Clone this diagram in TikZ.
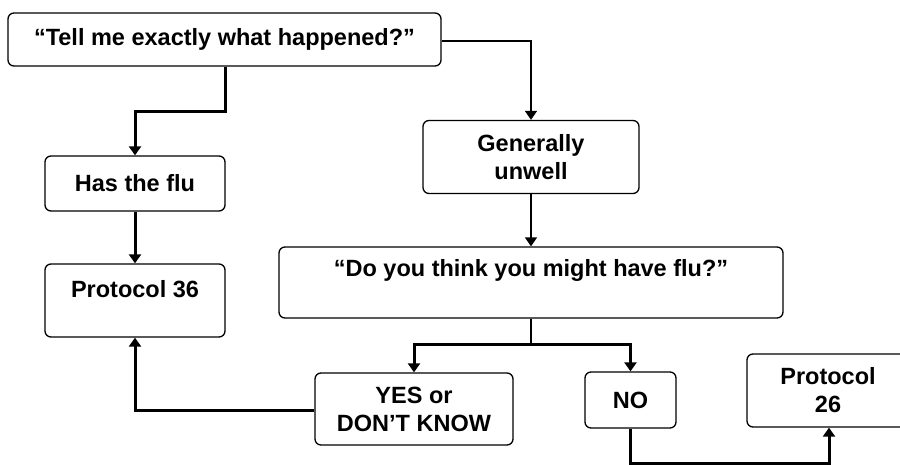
\documentclass[tikz,border=0pt]{standalone}
\usepackage{fontspec}
\setmainfont{Liberation Sans}
\usetikzlibrary{arrows.meta}
\begin{document}
\begin{tikzpicture}[x=1pt,y=-1pt,
  box/.style={draw, line width=1.3pt, rounded corners=6pt, inner sep=0pt,
    align=center, font=\fontsize{23.5}{28}\selectfont\bfseries},
  txt/.style={inner sep=0pt, align=center, font=\fontsize{23.5}{28}\selectfont\bfseries},
  thin/.style={line width=1.6pt},
  thick/.style={line width=3pt},
  arr/.style={-{Triangle[width=12pt,length=9pt]}},
]
\clip (0,0) rectangle (900,464);
\fill[white] (0,0) rectangle (900,464);

% boxes
\node[box, minimum width=433pt, minimum height=53pt] (ask) at (224.5,39.5) {“Tell me exactly what happened?\char34};
\node[box, minimum width=180pt, minimum height=55pt] (flu) at (135,183.5) {Has the flu};
\node[box, minimum width=180pt, minimum height=73pt] (p36) at (135,300.5) {};
\node[txt] (p36t) at (135,289) {Protocol 36};
\node[box, minimum width=216pt, minimum height=73pt] (unwell) at (531,157) {Generally\\unwell};
\node[box, minimum width=504pt, minimum height=71pt] (think) at (531,282.5) {};
\node[txt] (thinkt) at (531,270) {“Do you think you might have flu?\char34};
\node[box, minimum width=198pt, minimum height=72pt] (yes) at (414,409) {YES or\\DON’T KNOW};
\node[box, minimum width=91pt, minimum height=56pt] (no) at (630.5,400) {NO};
\node[box, minimum width=162pt, minimum height=73pt] (p26) at (828,390.5) {Protocol\\26};

% branch point below the flu question
\coordinate (split) at (531,344);

% connectors
\draw[thick, arr] (ask.south -| 225,0) |- (135,111) -- (flu.north);
\draw[thin, arr] (ask.east |- 0,41) -| (unwell.north);
\draw[thick, arr] (flu.south) -- (p36.north);
\draw[thin, arr] (unwell.south) -- (think.north);
\draw[thin] (think.south) -- (split);
\draw[thick, arr] ([xshift=0.75pt]split) -| (yes.north);
\draw[thick, arr] ([xshift=-0.75pt]split) -| (no.north);
\draw[thick, arr] (yes.west |- 0,410) -| (p36.south);
\draw[thick, arr] (no.south -| 630,0) |- (829,463) -- (p26.south -| 829,0);
\end{tikzpicture}
\end{document}
